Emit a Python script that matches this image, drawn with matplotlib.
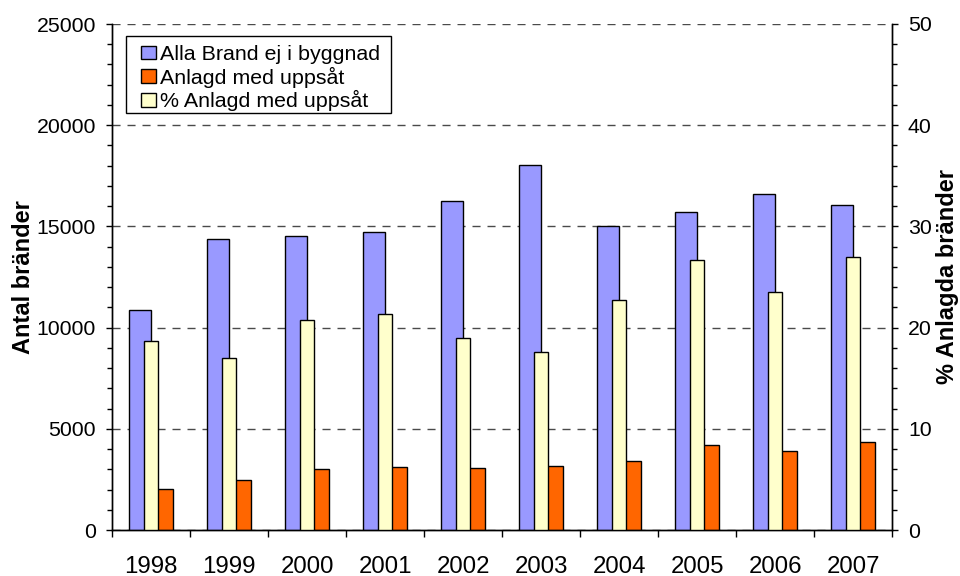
import matplotlib
matplotlib.use("Agg")
import matplotlib.pyplot as plt
import numpy as np
from matplotlib.patches import Patch, Rectangle
from matplotlib.ticker import MultipleLocator, FixedLocator, NullFormatter

plt.rcParams['font.family'] = ['Liberation Sans', 'DejaVu Sans']

years = ['1998', '1999', '2000', '2001', '2002', '2003', '2004', '2005', '2006', '2007']
alla_brand = [10850, 14400, 14550, 14700, 16250, 18050, 15000, 15700, 16600, 16070]
anlagd = [2010, 2450, 3020, 3130, 3080, 3150, 3410, 4200, 3900, 4330]
pct_anlagd = [18.7, 17.0, 20.8, 21.3, 19.0, 17.6, 22.7, 26.7, 23.5, 27.0]

label_alla = 'Alla Brand ej i byggnad'
label_anlagd = 'Anlagd med uppsåt'
label_pct = '% Anlagd med uppsåt'

c_blue = '#9999FF'
c_orange = '#FF6600'
c_yellow = '#FFFFCC'

W, H = 960, 576
fig = plt.figure(figsize=(W/100, H/100), dpi=100)
ax1 = fig.add_axes([112/W, 1-530/H, 780/W, 506/H])
ax2 = ax1.twinx()

x = np.arange(len(years))
w = 0.282
ax1.bar(x - w/2, alla_brand, width=w, color=c_blue, edgecolor='black', linewidth=1, zorder=3)
ax1.bar(x + w/2, anlagd, width=w, color=c_orange, edgecolor='black', linewidth=1, zorder=3)
ax2.bar(x, pct_anlagd, width=0.19, color=c_yellow, edgecolor='black', linewidth=1, zorder=3)

ax1.set_xlim(-0.5, len(years) - 0.5)
ax1.set_ylim(0, 25000)
ax2.set_ylim(0, 50)

ax1.yaxis.set_major_locator(MultipleLocator(5000))
ax1.yaxis.set_minor_locator(MultipleLocator(1000))
ax2.yaxis.set_major_locator(MultipleLocator(10))
ax2.yaxis.set_minor_locator(MultipleLocator(2))

ax1.xaxis.set_major_locator(FixedLocator(np.arange(-0.5, len(years), 1.0)))
ax1.xaxis.set_major_formatter(NullFormatter())
ax1.set_xticks(x, minor=True)
ax1.set_xticklabels(years, minor=True)
ax1.tick_params(axis='x', which='major', direction='out', length=5, width=1)
ax1.tick_params(axis='x', which='minor', length=0, pad=18.5, labelsize=17.3)

ax1.tick_params(axis='y', which='major', direction='out', length=4.5, width=1, labelsize=15.3, pad=7)
ax1.tick_params(axis='y', which='minor', direction='out', length=3.5, width=1)
ax2.tick_params(axis='y', which='major', direction='out', length=4.5, width=1, labelsize=15.3, pad=7)
ax2.tick_params(axis='y', which='minor', direction='out', length=3.5, width=1)

ax1.grid(axis='y', which='major', linestyle=(0, (5.8, 5)), color='#4a4a4a', linewidth=1, zorder=0)
ax1.set_axisbelow(True)

for ax in (ax1, ax2):
    ax.spines['top'].set_visible(False)
    for s in ('left', 'right', 'bottom'):
        ax.spines[s].set_linewidth(1)

ax1.set_ylabel('Antal bränder', fontsize=17, fontweight='bold', labelpad=1.5)
ax2.set_ylabel('% Anlagda bränder', fontsize=17, fontweight='bold', labelpad=3)

handles = [Patch(facecolor=c_blue, edgecolor='black', linewidth=1),
           Patch(facecolor=c_orange, edgecolor='black', linewidth=1),
           Patch(facecolor=c_yellow, edgecolor='black', linewidth=1)]
leg = ax2.legend(handles, [label_alla, label_anlagd, label_pct],
                 loc='upper left', bbox_to_anchor=(141/W, 1-45/H),
                 bbox_transform=fig.transFigure, borderaxespad=0,
                 fontsize=15.4, frameon=False,
                 handlelength=0.7, handleheight=0.6, handletextpad=0.2,
                 labelspacing=0.12, borderpad=0)
leg.set_zorder(10)
frame = Rectangle((126/W, 1-113/H), 265/W, 77/H, transform=fig.transFigure,
                  facecolor='white', edgecolor='black', linewidth=1, zorder=9)
ax2.add_artist(frame)
frame.set_clip_on(False)

fig.savefig('out.png', dpi=100)
